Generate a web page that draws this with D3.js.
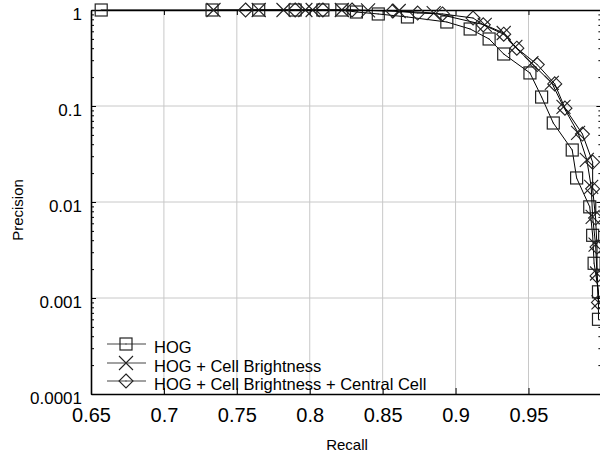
<!DOCTYPE html>
<html>
<head>
<meta charset="utf-8">
<script src="https://cdn.jsdelivr.net/npm/d3@7"></script>
<style>
body { margin: 0; background: #fff; }
svg { display: block; font-family: Arial, "Liberation Sans", sans-serif; }
</style>
</head>
<body>
<svg id="chart" width="600" height="455"></svg>
<script>
const xTicks = [0.65, 0.7, 0.75, 0.8, 0.85, 0.9, 0.95];
const yTicks = [1, 0.1, 0.01, 0.001, 0.0001];
const yTickLabels = ["1", "0.1", "0.01", "0.001", "0.0001"];
const seriesNames = ["HOG", "HOG + Cell Brightness", "HOG + Cell Brightness + Central Cell"];

const hogRecall = [0.657, 0.733, 0.765, 0.790, 0.809, 0.822, 0.832, 0.847, 0.867, 0.894, 0.910, 0.923, 0.933, 0.951, 0.959, 0.967, 0.980, 0.983, 0.992, 0.994, 0.995, 0.998, 0.998];
const hogPrecision = [1, 1, 1, 1, 1, 1, 0.953, 0.909, 0.846, 0.750, 0.634, 0.499, 0.348, 0.221, 0.124, 0.0665, 0.0348, 0.0178, 0.0089, 0.0045, 0.0023, 0.00116, 0.00060];

const cbRecall = [0.734, 0.765, 0.782, 0.797, 0.802, 0.822, 0.840, 0.861, 0.885, 0.920, 0.933, 0.941, 0.952, 0.966, 0.974, 0.984, 0.990, 0.993, 0.994, 0.996, 0.997, 0.998];
const cbPrecision = [1, 1, 1, 1, 1, 1, 0.99, 0.976, 0.93, 0.70, 0.576, 0.412, 0.28, 0.174, 0.098, 0.0525, 0.0275, 0.0144, 0.0070, 0.0036, 0.0018, 0.00090];

const ccRecall = [0.756, 0.790, 0.809, 0.829, 0.857, 0.874, 0.891, 0.912, 0.919, 0.933, 0.942, 0.956, 0.968, 0.975, 0.987, 0.994, 0.994, 0.996, 0.997, 0.997, 0.998];
const ccPrecision = [1, 1, 1, 1, 0.976, 0.93, 0.91, 0.825, 0.70, 0.56, 0.40, 0.27, 0.17, 0.095, 0.051, 0.026, 0.0137, 0.0068, 0.0034, 0.0017, 0.00090];

const svg = d3.select("#chart");
const L = 91, R = 601.4, T = 10, B = 394;
const x = d3.scaleLinear().domain([0.65, 1.0]).range([L, R]);
const y = d3.scaleLog().domain([0.0001, 1]).range([B, T]);

const minorY = [];
[0.0001, 0.001, 0.01, 0.1].forEach(d => { for (let k = 2; k <= 9; k++) minorY.push(d * k); });

// grid
const grid = svg.append("g");
grid.selectAll("line.gx").data(xTicks.slice(1)).join("line")
  .attr("x1", d => x(d)).attr("x2", d => x(d)).attr("y1", T).attr("y2", B)
  .attr("stroke", "#c8c8c8").attr("stroke-width", 1);
grid.selectAll("line.gy").data(yTicks.slice(1, 4)).join("line")
  .attr("x1", L).attr("x2", R).attr("y1", d => y(d)).attr("y2", d => y(d))
  .attr("stroke", "#c8c8c8").attr("stroke-width", 1);

function styleAxis(g) {
  g.selectAll("path.domain").attr("stroke", "#000").attr("stroke-width", 1.6);
  g.selectAll(".tick line").attr("stroke", "#000");
}

// bottom axis
const gb = svg.append("g").attr("transform", `translate(0,${B})`)
  .call(d3.axisBottom(x).tickValues(xTicks).tickSizeInner(-6).tickSizeOuter(0).tickPadding(14).tickFormat(d3.format("")));
styleAxis(gb);
gb.selectAll("text").attr("font-size", 20).attr("fill", "#000").attr("font-family", "Arial, 'Liberation Sans', sans-serif");

// top axis
const gt = svg.append("g").attr("transform", `translate(0,${T})`)
  .call(d3.axisTop(x).tickValues(xTicks).tickSizeInner(-5).tickSizeOuter(0).tickFormat(""));
styleAxis(gt);

// left axis
const gl = svg.append("g").attr("transform", `translate(${L},0)`)
  .call(d3.axisLeft(y).tickValues(yTicks).tickSizeInner(-5).tickSizeOuter(0).tickPadding(9)
    .tickFormat((d, i) => yTickLabels[i]));
styleAxis(gl);
gl.selectAll("text").attr("font-size", 17).attr("fill", "#000").attr("dy", "0.55em")
  .attr("font-family", "Arial, 'Liberation Sans', sans-serif");
const glm = svg.append("g").attr("transform", `translate(${L},0)`)
  .call(d3.axisLeft(y).tickValues(minorY).tickSizeInner(-3).tickSizeOuter(0).tickFormat(""));
glm.select("path.domain").remove();
styleAxis(glm);

// right axis
const gr = svg.append("g").attr("transform", `translate(${R},0)`)
  .call(d3.axisRight(y).tickValues(yTicks).tickSizeInner(-5).tickSizeOuter(0).tickFormat(""));
styleAxis(gr);
const grm = svg.append("g").attr("transform", `translate(${R},0)`)
  .call(d3.axisRight(y).tickValues(minorY).tickSizeInner(-3).tickSizeOuter(0).tickFormat(""));
grm.select("path.domain").remove();
styleAxis(grm);

// axis titles
svg.append("text").attr("x", 347).attr("y", 450).attr("text-anchor", "middle")
  .attr("font-size", 15).text("Recall");
svg.append("text").attr("transform", "translate(23,210) rotate(-90)").attr("text-anchor", "middle")
  .attr("font-size", 15).text("Precision");

// series
const series = [
  { name: seriesNames[0], r: hogRecall, p: hogPrecision, marker: "square" },
  { name: seriesNames[1], r: cbRecall, p: cbPrecision, marker: "x" },
  { name: seriesNames[2], r: ccRecall, p: ccPrecision, marker: "diamond" }
];

const line = d3.line().x(d => x(d[0])).y(d => y(d[1]));
const markerColor = "#222";

function drawMarker(g, type, cx, cy) {
  if (type === "square") {
    g.append("rect").attr("x", cx - 6).attr("y", cy - 6).attr("width", 12).attr("height", 12)
      .attr("fill", "none").attr("stroke", markerColor).attr("stroke-width", 1.2);
    g.append("rect").attr("x", cx - 0.5).attr("y", cy - 0.5).attr("width", 1).attr("height", 1).attr("fill", markerColor);
  } else if (type === "x") {
    g.append("path").attr("d", `M${cx-7},${cy-7}L${cx+7},${cy+7}M${cx-7},${cy+7}L${cx+7},${cy-7}`)
      .attr("fill", "none").attr("stroke", markerColor).attr("stroke-width", 1.1);
  } else {
    g.append("path").attr("d", `M${cx},${cy-7}L${cx+7},${cy}L${cx},${cy+7}L${cx-7},${cy}Z`)
      .attr("fill", "none").attr("stroke", markerColor).attr("stroke-width", 1.1);
    g.append("rect").attr("x", cx - 0.5).attr("y", cy - 0.5).attr("width", 1).attr("height", 1).attr("fill", markerColor);
  }
}

series.forEach(s => {
  const pts = s.r.map((r, i) => [r, s.p[i]]);
  svg.append("path").datum(pts).attr("d", line).attr("fill", "none").attr("stroke", "#000").attr("stroke-width", 1);
  const mg = svg.append("g");
  pts.forEach(d => drawMarker(mg, s.marker, x(d[0]), y(d[1])));
});

// legend
const legendY = [344, 363, 381];
const lg = svg.append("g");
series.forEach((s, i) => {
  lg.append("line").attr("x1", 107).attr("x2", 146).attr("y1", legendY[i]).attr("y2", legendY[i])
    .attr("stroke", "#444").attr("stroke-width", 1.2);
  drawMarker(lg, s.marker, 126, legendY[i]);
  lg.append("text").attr("x", 154).attr("y", legendY[i] + 9).attr("font-size", 16.5).text(s.name);
});
</script>
</body>
</html>
